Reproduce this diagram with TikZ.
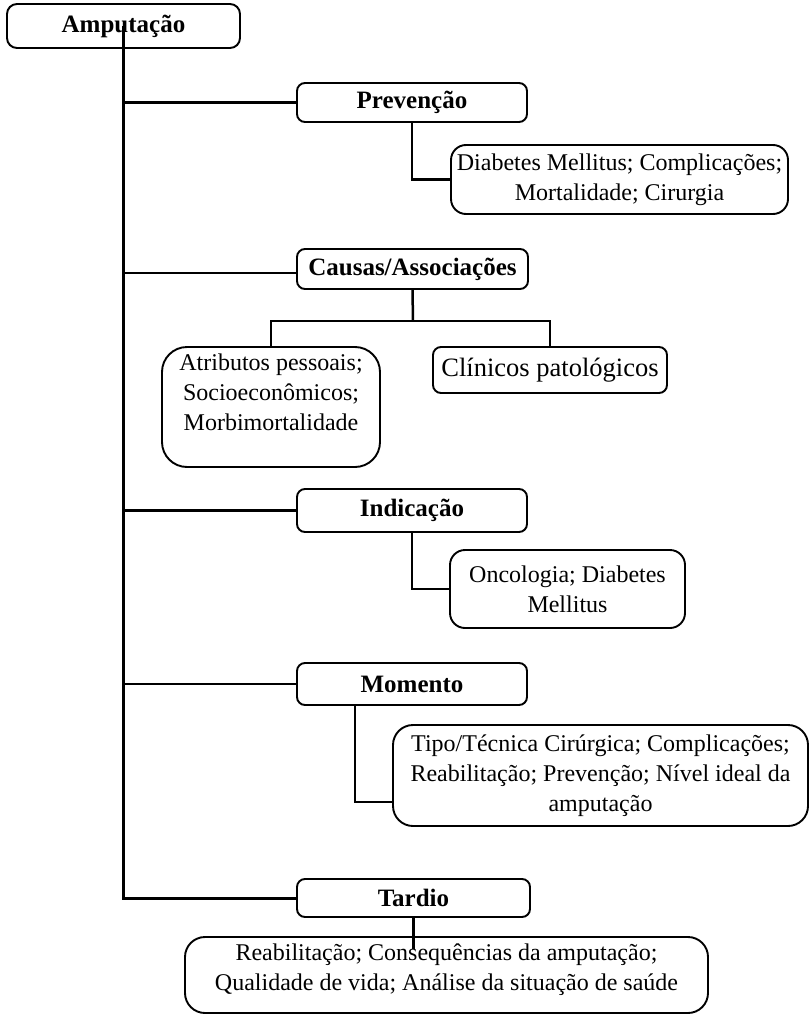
\documentclass[tikz,border=0pt]{standalone}
\usepackage{fontspec}
\setmainfont{Liberation Serif}
\begin{document}
\begin{tikzpicture}[x=1pt,y=-1pt,
  box/.style={draw, line width=1.9pt, rounded corners=#1, align=center, inner sep=0pt,
    font=\fontsize{24}{30}\selectfont},
  box/.default=8pt,
  head/.style={box=8pt, font=\bfseries\fontsize{25}{30}\selectfont},
  conn/.style={line width=2.5pt},
  trunk/.style={line width=3pt}]
\useasboundingbox (0,0) rectangle (810,1014);
% nodes
\node[head, rounded corners=10pt, minimum width=233pt, minimum height=44pt] (amp) at (123.5,26) {Amputação};
\node[head, minimum width=230pt, minimum height=39pt] (prev) at (412,102.5) {Prevenção};
\node[box=15pt, minimum width=337pt, minimum height=69pt] (prevsub) at (619.5,179.5)
  {Diabetes Mellitus; Complicações;\\Mortalidade; Cirurgia};
\node[head, minimum width=231pt, minimum height=40pt] (causas) at (412.5,269) {Causas/Associações};
\node[box=25pt, minimum width=218pt, minimum height=120pt] (atrib) at (271,407)
  {Atributos pessoais;\\Socioeconômicos;\\Morbimortalidade\\\mbox{}};
\node[box=8pt, minimum width=234pt, minimum height=46pt, font=\fontsize{26.5}{32}\selectfont] (clin) at (550,370)
  {Clínicos patológicos};
\node[head, minimum width=230pt, minimum height=43pt] (ind) at (412,510.5) {Indicação};
\node[box=15pt, minimum width=235pt, minimum height=78pt] (indsub) at (567.5,589)
  {Oncologia; Diabetes\\Mellitus};
\node[head, minimum width=230pt, minimum height=42pt] (mom) at (412,684) {Momento};
\node[box=20pt, minimum width=415pt, minimum height=101pt] (momsub) at (600.5,775.5)
  {Tipo/Técnica Cirúrgica; Complicações;\\Reabilitação; Prevenção; Nível ideal da\\amputação};
\node[head, minimum width=233pt, minimum height=38pt] (tardio) at (413.5,898) {Tardio};
\node[box=20pt, minimum width=523pt, minimum height=76pt] (tsub) at (446.5,975)
  {Reabilitação; Consequências da amputação;\\Qualidade de vida; Análise da situação de saúde\\[-14pt]\mbox{}};
\coordinate (cbar) at (413,321);
% trunk and branches
\draw[trunk] (amp.center) |- (tardio.west);
\draw[conn] (amp.center |- prev.west) -- (prev.west);
\draw[conn] (amp.center |- causas.west) ++(0,4) -- ([yshift=-4pt]causas.west);
\draw[conn] (amp.center |- ind.west) -- (ind.west);
\draw[conn] (amp.center |- mom.west) -- (mom.west);
% sub connectors
\draw[conn] (prev.south) |- (prevsub.west);
\draw[conn] (causas.south) -- (cbar);
\draw[conn] (atrib.north) |- (cbar) -| (clin.north);
\draw[conn] (ind.south) |- (indsub.west);
\draw[conn] ([xshift=-57pt]mom.south) |- ([yshift=-26.5pt]momsub.west);
\draw[conn] (tardio.south) -- ([yshift=-13pt]tardio.south |- tsub.north);
\end{tikzpicture}
\end{document}
